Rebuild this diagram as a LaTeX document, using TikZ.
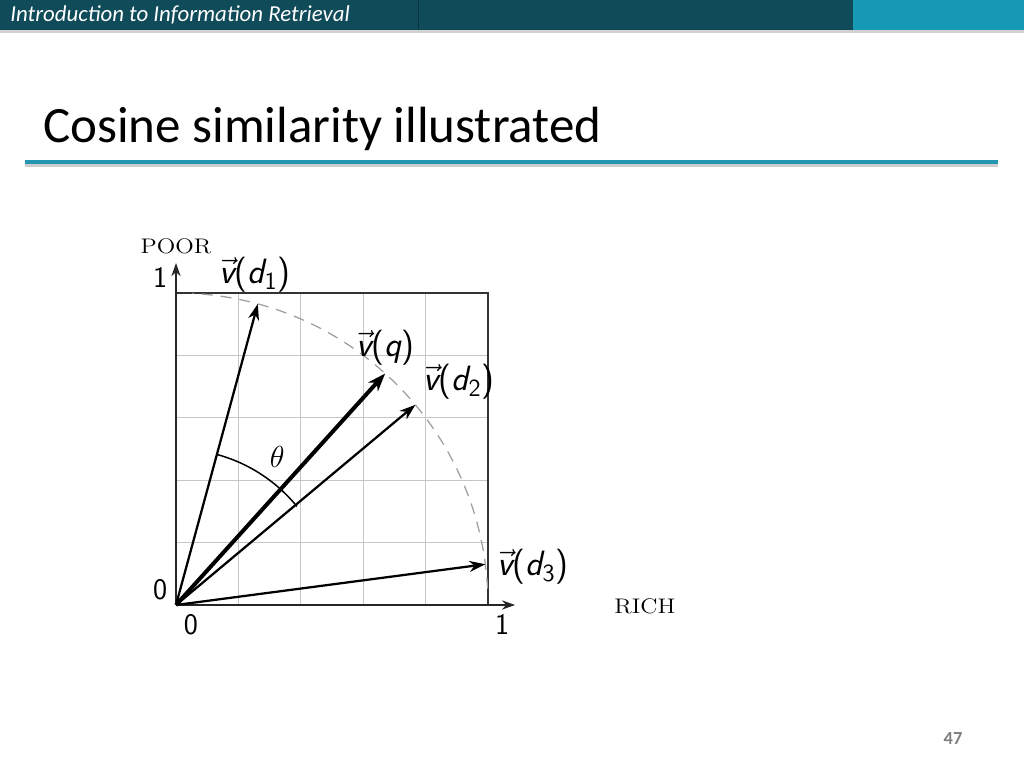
\documentclass[tikz,border=0pt]{standalone}
\usepackage{amsmath}
\usepackage{fontspec}
\usepackage{tikz}
\usetikzlibrary{arrows.meta}
\newfontfamily\slidefont{Carlito}
\definecolor{headdark}{HTML}{0F4B59}
\definecolor{headlight}{HTML}{1699B5}
\definecolor{ruleteal}{HTML}{2296B0}
\newcommand{\vlab}[2]{$\vec{\text{\sffamily\itshape v}}\text{\sffamily(}\text{\sffamily\itshape #1}_{\text{\sffamily #2}}\text{\sffamily)}$}

\begin{document}
\begin{tikzpicture}[
        x=0.2mm, y=0.2mm,
        gridline/.style={gray!45, line width=0.2mm},
        frameline/.style={black!80, line width=0.45mm},
        axisarrow/.style={-{Stealth[length=2.6mm, width=1.8mm, inset=0.8mm]}, black!85, line width=0.45mm},
        vecarrow/.style={-{Stealth[length=3.2mm, width=2.2mm, inset=1mm]}, line width=0.45mm},
        qarrow/.style={-{Stealth[length=3.6mm, width=2.6mm, inset=1.1mm]}, line width=0.8mm},
        veclabel/.style={font=\fontsize{20}{20}\selectfont, inner sep=0pt},
        ticklabel/.style={font=\sffamily\fontsize{17}{17}\selectfont, inner sep=0pt},
        axislabel/.style={font=\fontsize{12}{12}\selectfont, inner sep=0pt, xscale=1.15}
    ]
        \useasboundingbox[fill=white] (0,0) rectangle (1024,768);

        % --- SLIDE HEADER ---
        \fill[headdark] (0,738) rectangle (853,768);
        \fill[headlight] (853,738) rectangle (1024,768);
        \fill[gray!35] (0,735) rectangle (1024,738);
        \draw[headdark!70!black, line width=0.2mm] (418,738) -- (418,768);
        \node[anchor=base west, text=white, font=\slidefont\itshape\fontsize{13}{13}\selectfont, inner sep=0pt] (header) at (10,746) {Introduction to Information Retrieval};

        % --- TITLE ---
        \node[anchor=base west, font=\slidefont\fontsize{29}{29}\selectfont, inner sep=0pt] (title) at (43,625) {Cosine similarity illustrated};
        \fill[gray!40] (25,601) rectangle (998,604);
        \fill[ruleteal] (25,604) rectangle (998,608);

        % --- PLOT ---
        \begin{scope}[shift={(176,163)}, x=62.4mm, y=62.4mm]
            \coordinate (O) at (0,0);
            \coordinate (xend) at (1.087,0);
            \coordinate (yend) at (0,1.096);
            \coordinate (d1) at (74.8:1);
            \coordinate (q) at (47.9:1);
            \coordinate (d2) at (39.9:1);
            \coordinate (d3) at (7.5:1);

            \draw[gridline] (0,0) grid[step=0.2] (1,1);
            \draw[frameline] (0,1) -- (1,1) -- (1,0);
            \draw[gray!75, dashed, dash pattern=on 2.2mm off 1.6mm, line width=0.25mm] (3:1) arc[start angle=3, end angle=87, radius=1];

            % axes
            \draw[axisarrow] (O) -- (xend);
            \draw[axisarrow] (O) -- (yend);

            % vectors
            \draw[vecarrow] (O) -- (d1);
            \draw[qarrow] (O) -- (q);
            \draw[vecarrow] (O) -- (d2);
            \draw[vecarrow] (O) -- (d3);

            % angle between d1 and d2
            \draw[line width=0.3mm] (74.8:0.5) arc[start angle=74.8, end angle=39.2, radius=0.5];
            \node[font=\fontsize{17}{17}\selectfont, inner sep=0pt] (theta) at (0.324,0.474) {$\theta$};

            % labels
            \node[veclabel] (ld1) at (0.253,1.058) {\vlab{d}{1}};
            \node[veclabel] (lq) at (0.67,0.824) {$\vec{\text{\sffamily\itshape v}}\text{\sffamily(}\text{\sffamily\itshape q}\text{\sffamily)}$};
            \node[veclabel] (ld2) at (0.907,0.715) {\vlab{d}{2}};
            \node[veclabel] (ld3) at (1.144,0.122) {\vlab{d}{3}};

            \node[ticklabel] (y1) at (-0.051,1.051) {1};
            \node[ticklabel] (y0) at (-0.051,0.048) {0};
            \node[ticklabel] (x0) at (0.048,-0.064) {0};
            \node[ticklabel] (x1) at (1.045,-0.064) {1};
            \node[axislabel] (poor) at (0,1.151) {POOR};
            \node[axislabel] (rich) at (1.503,-0.003) {RICH};
        \end{scope}

        % --- PAGE NUMBER ---
        \node[font=\slidefont\bfseries\fontsize{10.5}{10.5}\selectfont, text=gray, inner sep=0pt] (page) at (953,29) {47};
    \end{tikzpicture}
\end{document}
